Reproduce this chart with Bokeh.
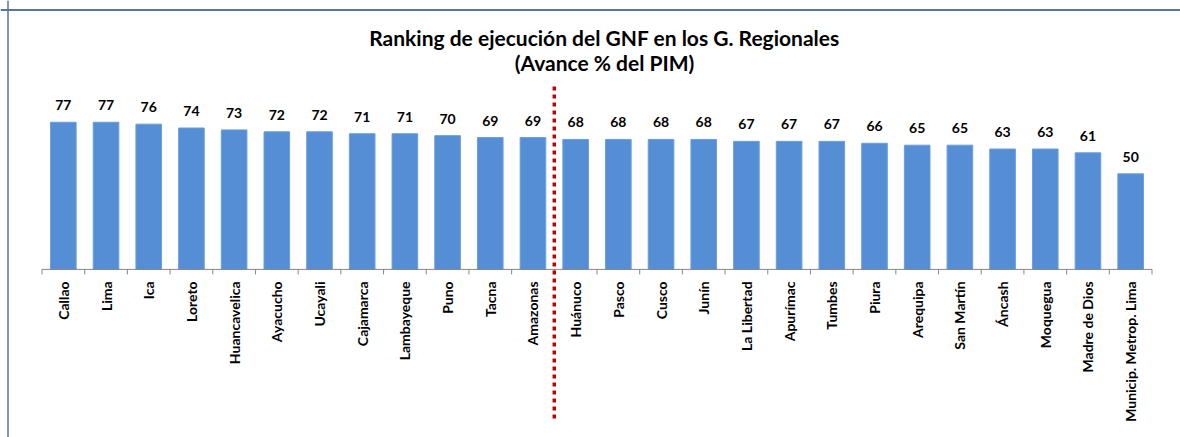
import numpy as np
from bokeh.plotting import figure
from bokeh.models import Range1d, Span
from bokeh.core.properties import value
from bokeh.embed import file_html
from bokeh.resources import INLINE

# ---------------- data ----------------
regions = ["Callao", "Lima", "Ica", "Loreto", "Huancavelica", "Ayacucho", "Ucayali",
           "Cajamarca", "Lambayeque", "Puno", "Tacna", "Amazonas", "Huánuco", "Pasco",
           "Cusco", "Junín", "La Libertad", "Apurímac", "Tumbes", "Piura", "Arequipa",
           "San Martín", "Áncash", "Moquegua", "Madre de Dios", "Municip. Metrop. Lima"]
avance = [77, 77, 76, 74, 73, 72, 72, 71, 71, 70, 69, 69, 68, 68, 68, 68, 67, 67, 67,
          66, 65, 65, 63, 63, 61, 50]
title_lines = ["Ranking de ejecución del GNF en los G. Regionales", "(Avance % del PIM)"]
separator_after = "Amazonas"

# ---------------- layout (page pixels) ----------------
W, H = 1180, 437
PAGE = 0
AX_LEFT, AX_RIGHT = 41.5, 1151.5
BASE = 268.9
PX_PER_UNIT = 1.911

n = len(regions)
step = (AX_RIGHT - AX_LEFT) / n


def dx(px):
    return (px - AX_LEFT) / step


def dy(py):
    return (BASE - py) / PX_PER_UNIT


p = figure(width=W, height=H,
           x_range=Range1d(dx(PAGE), dx(PAGE + W)),
           y_range=Range1d(dy(PAGE + H), dy(PAGE)),
           output_backend="svg", toolbar_location=None, min_border=0)
p.xaxis.visible = False
p.yaxis.visible = False
p.xgrid.grid_line_color = None
p.ygrid.grid_line_color = None
p.outline_line_color = None
p.background_fill_color = "white"
p.border_fill_color = "white"

xs = np.arange(n) + 0.5
vals = np.array(avance, dtype=float)

# bars
p.vbar(x=xs, top=vals, bottom=0, width=0.6, fill_color="#558ED5", line_color="#6A9FDC",
       line_width=1)

# category axis line and ticks
p.segment(x0=[0], x1=[n], y0=[0], y1=[0], line_color="#868686", line_width=1)
bounds = np.arange(n + 1)
p.segment(x0=bounds, x1=bounds, y0=np.zeros(n + 1), y1=np.full(n + 1, -5 / PX_PER_UNIT),
          line_color="#868686", line_width=1)

# category labels (rotated)
p.text(x=xs, y=np.full(n, -12 / PX_PER_UNIT), text=regions, angle=np.pi / 2,
       text_align="right", text_baseline="middle", text_color="black",
       text_font=value("Lato"), text_font_style="bold", text_font_size="14px")

# value labels
p.text(x=xs, y=vals + 17 / PX_PER_UNIT, text=[str(v) for v in avance],
       text_align="center", text_baseline="alphabetic", text_color="black",
       text_font=value("Lato"), text_font_style="bold", text_font_size="14px")

# separator
sep = regions.index(separator_after) + 1
p.segment(x0=[sep], x1=[sep], y0=[dy(86)], y1=[dy(422)], line_color="#C00000",
          line_width=3.5, line_dash="4 4", line_cap="butt")

# title
p.text(x=[dx(604), dx(604)], y=[dy(37), dy(62)], text=title_lines,
       text_align="center", text_baseline="alphabetic", text_color="black",
       text_font=value("Lato"), text_font_style="bold", text_font_size="21px")

# frame border (top and left visible)
p.add_layout(Span(location=dy(9.5), dimension="width", line_color="#5675A0", line_width=2))
p.add_layout(Span(location=dx(7.5), dimension="height", line_color="#5675A0", line_width=1.5))

open("out.html", "w").write(file_html(p, INLINE))
